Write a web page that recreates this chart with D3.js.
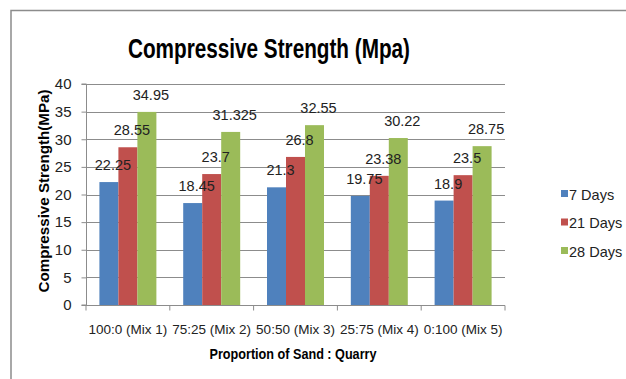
<!DOCTYPE html>
<html><head><meta charset="utf-8">
<script src="https://cdn.jsdelivr.net/npm/d3@7"></script>
<style>body{margin:0;background:#fff}svg{display:block}text{font-family:"Liberation Sans",Arial,sans-serif;fill:#222}</style>
</head><body>
<svg id="c" width="626" height="379"></svg>
<script>
const categories = ["100:0 (Mix 1)","75:25 (Mix 2)","50:50 (Mix 3)","25:75 (Mix 4)","0:100 (Mix 5)"];
const seriesNames = ["7 Days","21 Days","28 Days"];
const days7 = [22.25,18.45,21.3,19.75,18.9];
const days21 = [28.55,23.7,26.8,23.38,23.5];
const days28 = [34.95,31.325,32.55,30.22,28.75];
const yTicks = [0,5,10,15,20,25,30,35,40];
const colors = ["#4F81BD","#C0504D","#9BBB59"];
const series = [days7,days21,days28];

const svg = d3.select("#c");
// outer border (top and left visible)
svg.append("path").attr("d","M11,379V10.5H626").attr("fill","none").attr("stroke","#8c8c8c").attr("stroke-width",1.5);

const L=86,R=505,T=84,B=305;
const x = d3.scaleBand().domain(categories).range([L,R]).paddingInner(0.32).paddingOuter(0.16);
const xs = d3.scaleBand().domain(seriesNames).range([0,x.bandwidth()]);
const y = d3.scaleLinear().domain([0,40]).range([B,T]);

// gridlines
svg.append("g").selectAll("line").data(yTicks.filter(d=>d>0)).join("line")
  .attr("x1",L).attr("x2",R).attr("y1",d=>Math.round(y(d))+0.5).attr("y2",d=>Math.round(y(d))+0.5)
  .attr("stroke","#8c8c8c").attr("stroke-width",1);

// y axis
const ya = svg.append("g").attr("transform",`translate(${L+0.5},0)`)
  .call(d3.axisLeft(y).tickValues(yTicks).tickSize(5).tickPadding(10).tickFormat(d3.format("d")));
ya.select(".domain").attr("stroke","#8c8c8c").attr("d",`M-5,${B}H0V${T}H-5`);
ya.selectAll(".tick line").attr("stroke","#8c8c8c");
ya.selectAll(".tick text").attr("font-size",15).attr("fill","#222").attr("font-family","Liberation Sans");

// x axis
const xa = svg.append("g").attr("transform",`translate(0,${B+0.5})`);
xa.append("line").attr("x1",L).attr("x2",R).attr("stroke","#8c8c8c");
const bounds = categories.map(c=>x(c)-x.step()*x.paddingInner()/2).concat([R]);
xa.selectAll("line.t").data(bounds).join("line").attr("class","t")
  .attr("x1",d=>d).attr("x2",d=>d).attr("y1",0).attr("y2",5).attr("stroke","#8c8c8c");
xa.selectAll("text").data(categories).join("text")
  .attr("x",d=>x(d)+x.bandwidth()/2).attr("y",28).attr("text-anchor","middle")
  .attr("font-size",13.5).text(d=>d);

// bars
series.forEach((vals,si)=>{
  const g = svg.append("g");
  g.selectAll("rect").data(vals).join("rect")
    .attr("x",(d,i)=>x(categories[i])+xs(seriesNames[si]))
    .attr("width",xs.bandwidth())
    .attr("y",d=>y(d)).attr("height",d=>B-y(d))
    .attr("fill",colors[si]);
});
series.forEach((vals,si)=>{
  svg.append("g").selectAll("text").data(vals).join("text")
    .attr("x",(d,i)=>x(categories[i])+xs(seriesNames[si])+xs.bandwidth()/2+4)
    .attr("y",d=>y(d)-12).attr("text-anchor","middle").attr("font-size",14.5)
    .text(d=>d);
});

// title
svg.append("text").attr("x",269).attr("y",58).attr("text-anchor","middle")
  .attr("font-size",28).attr("font-weight","bold").attr("textLength",282).attr("lengthAdjust","spacingAndGlyphs")
  .style("fill","#000").text("Compressive Strength (Mpa)");
// axis titles
svg.append("text").attr("transform","translate(49,191) rotate(-90)").attr("text-anchor","middle")
  .attr("font-size",14).attr("font-weight","bold").attr("textLength",203).attr("lengthAdjust","spacingAndGlyphs")
  .style("fill","#000").text("Compressive Strength(MPa)");
svg.append("text").attr("x",293).attr("y",359).attr("text-anchor","middle")
  .attr("font-size",14).attr("font-weight","bold").attr("textLength",167).attr("lengthAdjust","spacingAndGlyphs")
  .style("fill","#000").text("Proportion of Sand : Quarry");

// legend
const lg = svg.append("g").selectAll("g").data(seriesNames).join("g")
  .attr("transform",(d,i)=>`translate(561,${194+i*28.5})`);
lg.append("rect").attr("x",0).attr("y",-4).attr("width",7).attr("height",7).attr("fill",(d,i)=>colors[i]);
lg.append("text").attr("x",8).attr("y",5.5).attr("font-size",14.5).text(d=>d);
</script>
</body></html>
